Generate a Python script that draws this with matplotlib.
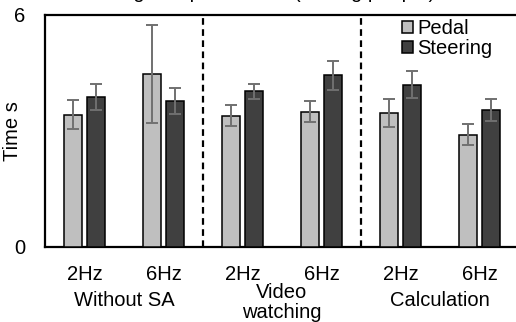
import matplotlib
matplotlib.use("Agg")
import matplotlib.pyplot as plt
import numpy as np

plt.rcParams['font.family'] = ['Liberation Sans', 'DejaVu Sans']

title = "Average response time (among people)"
freq_labels = ["2Hz", "6Hz", "2Hz", "6Hz", "2Hz", "6Hz"]
group_labels = ["Without SA", "Video\nwatching", "Calculation"]
pedal = [3.42, 4.47, 3.40, 3.50, 3.47, 2.90]
pedal_err = [0.37, 1.26, 0.26, 0.28, 0.37, 0.27]
steering = [3.88, 3.78, 4.03, 4.44, 4.20, 3.55]
steering_err = [0.34, 0.33, 0.19, 0.38, 0.34, 0.28]
series_names = ["Pedal", "Steering"]

W, H = 516, 322
fig = plt.figure(figsize=(W / 100, H / 100), dpi=100)
ax = fig.add_axes([45 / W, 1 - 247 / H, (519 - 45) / W, (247 - 15) / H])

x = np.arange(len(pedal))
bw = 0.228
off = 0.142
fs = 14.5
ekw = dict(ecolor="#707070", elinewidth=1.4, capsize=4.5, capthick=1.4, zorder=4)
ax.bar(x - off, pedal, bw, color="#bfbfbf", edgecolor="black", linewidth=1.1,
       label=series_names[0], zorder=3)
ax.bar(x + off, steering, bw, color="#404040", edgecolor="black", linewidth=1.1,
       label=series_names[1], zorder=3)
ax.errorbar(x - off, pedal, yerr=pedal_err, fmt="none", **ekw)
ax.errorbar(x + off, steering, yerr=steering_err, fmt="none", **ekw)

for xv in [1.5, 3.5]:
    ax.axvline(xv, color="black", linestyle=(0, (3, 2)), linewidth=1.6, zorder=2)

ax.set_xlim(-0.5, 5.5)
ax.set_ylim(0, 6)
ax.set_yticks([0, 6])
ax.set_yticklabels(["0", "6"], fontsize=fs)
ax.set_xticks(x)
ax.set_xticklabels(freq_labels, fontsize=fs)
ax.tick_params(axis="both", length=0)
ax.tick_params(axis="x", pad=13)
ax.tick_params(axis="y", pad=14)
for s in ["left", "bottom", "top", "right"]:
    ax.spines[s].set_linewidth(1.6)

fig.text(13 / W, 1 - 131 / H, "Time s", rotation=90, ha="center", va="center",
         fontsize=fs)

px = 72 / 100  # points per pixel
for i, g in enumerate(group_labels):
    lines = g.split("\n")
    if len(lines) == 1:
        baselines = [59]
    else:
        baselines = [51, 71]
    for line, b in zip(lines, baselines):
        ax.annotate(line, xy=(2 * i + 0.5, 0), xycoords=("data", "axes fraction"),
                    xytext=(0, -b * px), textcoords="offset points", ha="center",
                    va="baseline", fontsize=fs)

fig.text(0.5, 1 + 1.5 / H, title, ha="center", va="baseline", fontsize=fs)

leg = ax.legend(loc="upper left", bbox_to_anchor=(398 / W, 1 - 15 / H),
                bbox_transform=fig.transFigure, frameon=False, fontsize=fs,
                handlelength=0.55, handleheight=0.55, handletextpad=0.2,
                labelspacing=0.05, borderpad=0.2, borderaxespad=0)

fig.savefig("out.png", dpi=100)
